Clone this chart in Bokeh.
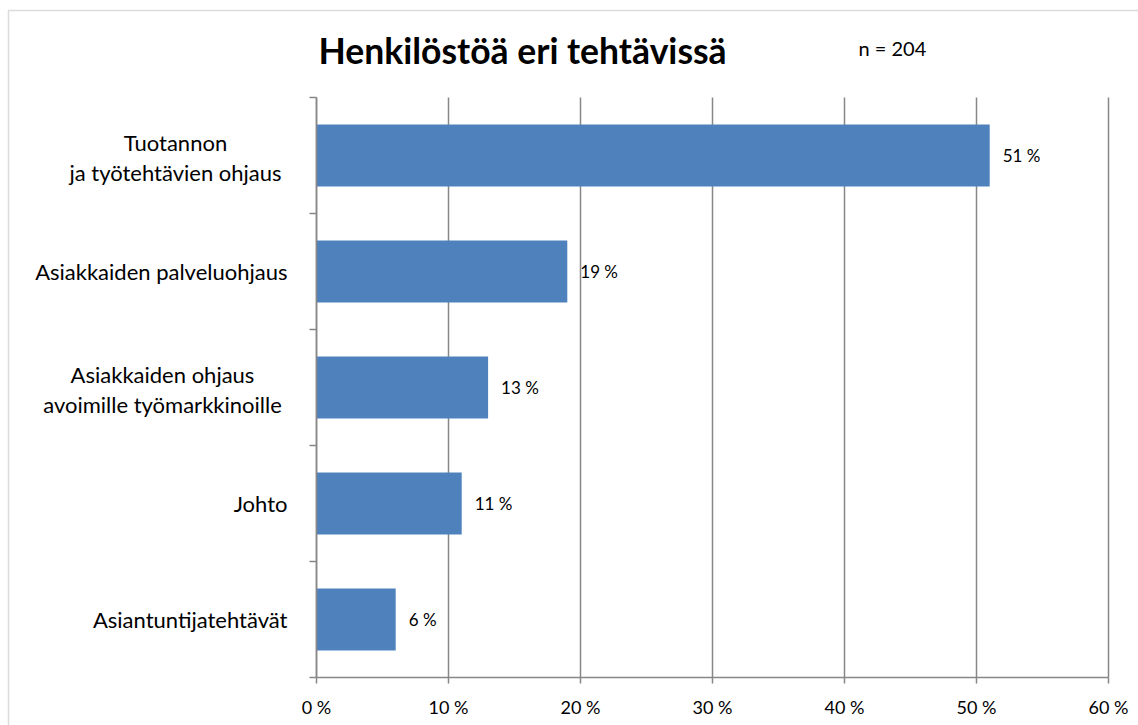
from bokeh.plotting import figure
from bokeh.models import (Range1d, FixedTicker, PrintfTickFormatter, LabelSet, Label,
                          ColumnDataSource, BoxAnnotation)
from bokeh.core.properties import value
from bokeh.embed import file_html
from bokeh.resources import INLINE

# ---- data (top to bottom) ----
categories = ["Tuotannon\nja työtehtävien ohjaus",
              "Asiakkaiden palveluohjaus",
              "Asiakkaiden ohjaus\navoimille työmarkkinoille",
              "Johto",
              "Asiantuntijatehtävät"]
values = [51, 19, 13, 11, 6]
x_ticks = [0, 10, 20, 30, 40, 50, 60]
title_text = "Henkilöstöä eri tehtävissä"
note_text = "n = 204"

FONT = "Lato"
BAR = "#4F81BD"
GRID = "#878787"

W, H = 1138, 725
X0, Y0 = 316, 677          # canvas pixel of data origin
PX_X = 13.2                # pixels per percentage point
PX_Y = 116                 # pixels per category band

n = len(categories)
centers = [n - i - 0.5 for i in range(n)]
labels = [f"{v} %" for v in values]

p = figure(width=W, height=H, output_backend="svg", toolbar_location=None,
           x_range=Range1d(-X0 / PX_X, (W - X0) / PX_X),
           y_range=Range1d(-(H - Y0) / PX_Y, Y0 / PX_Y),
           min_border_left=0, min_border_right=0, min_border_top=0, min_border_bottom=0)
p.outline_line_color = None
p.background_fill_color = "white"
p.border_fill_color = "white"

src = ColumnDataSource(dict(y=centers, v=values, lab=labels))
p.hbar(y="y", left=0, right="v", height=0.535, source=src, fill_color=BAR, line_color=None)

# x axis (fixed at y = 0)
p.xaxis.fixed_location = 0
p.xaxis.bounds = (x_ticks[0], x_ticks[-1])
p.xaxis.ticker = FixedTicker(ticks=x_ticks, minor_ticks=[])
p.xaxis.formatter = PrintfTickFormatter(format="%d %%")
p.xaxis.axis_line_color = GRID
p.xaxis.axis_line_width = 1.5
p.xaxis.major_tick_line_color = GRID
p.xaxis.major_tick_line_width = 1.5
p.xaxis.major_tick_out = 6
p.xaxis.major_tick_in = 0
p.xaxis.major_label_standoff = 12
p.xaxis.major_label_text_font = FONT
p.xaxis.major_label_text_font_size = "18px"
p.xaxis.major_label_text_color = "black"

p.xgrid.ticker = FixedTicker(ticks=x_ticks, minor_ticks=[])
p.xgrid.grid_line_color = GRID
p.xgrid.grid_line_width = 1.5
try:
    p.xgrid.cross_bounds = (0, n)
except Exception:
    pass
p.ygrid.grid_line_color = None

# y axis (fixed at x = 0): boundary ticks only
p.yaxis.fixed_location = 0
p.yaxis.bounds = (0, n)
p.yaxis.ticker = FixedTicker(ticks=centers, minor_ticks=list(range(n + 1)))
p.yaxis.axis_line_color = GRID
p.yaxis.axis_line_width = 1.5
p.yaxis.major_tick_line_color = None
p.yaxis.minor_tick_line_color = GRID
p.yaxis.minor_tick_line_width = 1.5
p.yaxis.minor_tick_out = 7
p.yaxis.minor_tick_in = 0
p.yaxis.major_label_text_color = None

# category labels: single-line ones right-aligned, two-line ones centred line by line
ml = dict(x=[], y=[], t=[], off=[])
sl = dict(x=[], y=[], t=[])
for c, yc in zip(categories, centers):
    lines = c.split("\n")
    if len(lines) == 1:
        sl["x"].append(0); sl["y"].append(yc); sl["t"].append(c)
    else:
        xoff = -141 if c.startswith("Tuotannon") else -154
        for k, line in enumerate(lines):
            dy_px = -13.5 + 30.5 * k          # pixels downward from band centre
            ml["x"].append(0); ml["y"].append(yc - dy_px / PX_Y)
            ml["t"].append(line); ml["off"].append(xoff)

p.add_layout(LabelSet(x="x", y="y", text="t", source=ColumnDataSource(ml), x_offset="off",
                      text_align="center", text_baseline="middle",
                      text_font=value(FONT), text_font_size=value("22px"), text_color="black"))
p.add_layout(LabelSet(x="x", y="y", text="t", source=ColumnDataSource(sl), x_offset=-29,
                      text_align="right", text_baseline="middle",
                      text_font=value(FONT), text_font_size=value("22px"), text_color="black"))

# value labels
p.add_layout(LabelSet(x="v", y="y", text="lab", source=src, x_offset=13,
                      text_baseline="middle", text_font=value(FONT), text_font_size=value("17px"),
                      text_color="black"))

# title and note
p.add_layout(Label(x=2 / PX_X, y=(Y0 - 49.5) / PX_Y, text=title_text, text_baseline="middle",
                   text_font=FONT, text_font_style="bold", text_font_size="35.5px",
                   text_color="black"))
p.add_layout(Label(x=(858 - X0) / PX_X, y=(Y0 - 47.5) / PX_Y, text=note_text,
                   text_baseline="middle", text_font=FONT, text_font_size="20px",
                   text_color="black"))

# chart border (left and top edges visible)
p.add_layout(BoxAnnotation(left=(8 - X0) / PX_X, right=100, top=(Y0 - 10) / PX_Y, bottom=-10,
                           fill_color=None, fill_alpha=0, line_color="#8a8a8a", line_width=1.5))

open("out.html", "w").write(file_html(p, INLINE))
